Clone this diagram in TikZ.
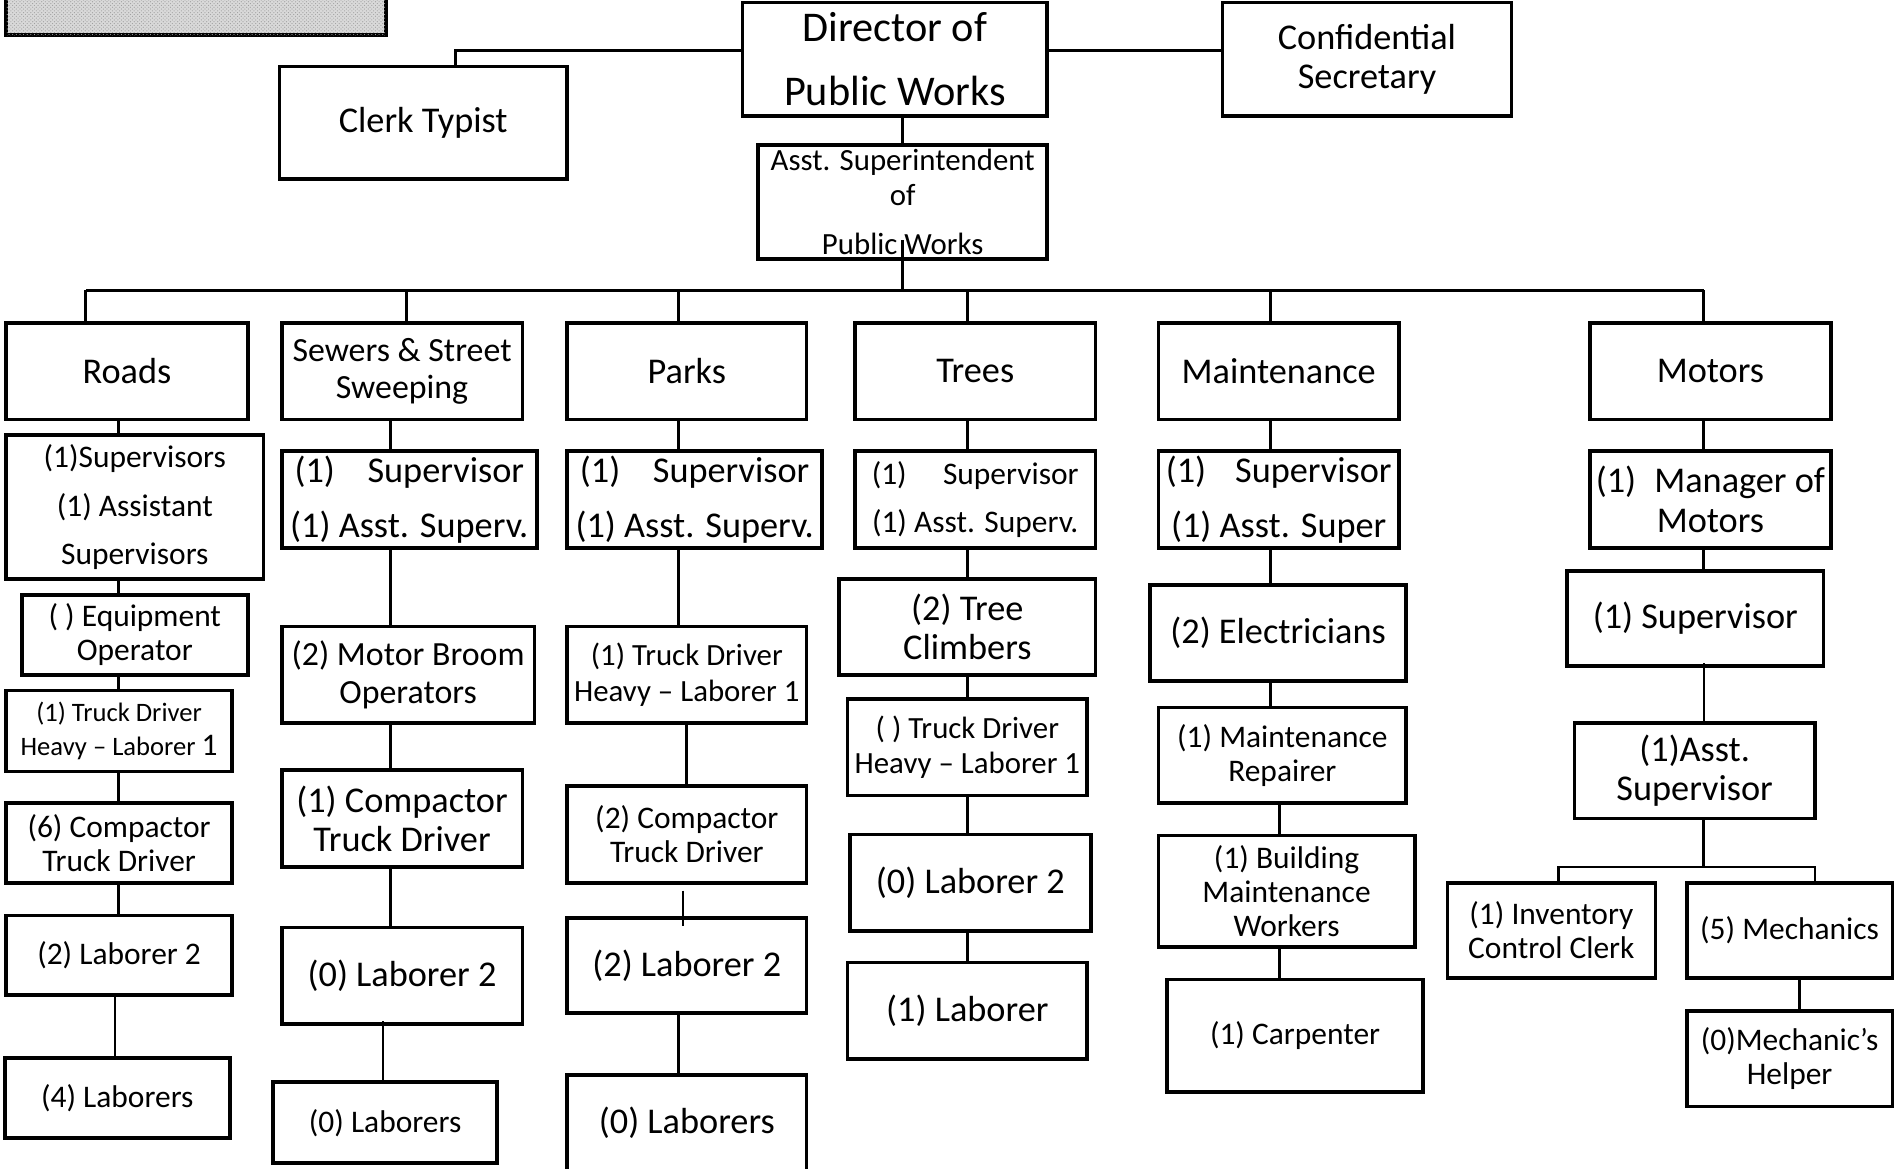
\documentclass[tikz,border=0pt]{standalone}
\usepackage{fontspec}
\setmainfont{Carlito}
\usetikzlibrary{patterns}

\tikzset{
  orgbox/.style={draw=black, line width=3pt, fill=white, inner sep=0pt, align=center, rectangle},
  banner/.style={draw=black, line width=3.5pt, fill=gray!30, inner sep=0pt, rectangle,
    postaction={pattern=crosshatch dots, pattern color=gray!75}},
  link/.style={draw=black, line width=2.3pt},
  thinlink/.style={draw=black, line width=1.5pt},
  tXL/.style={font=\fontsize{35}{38}\selectfont},
  tL/.style={font=\fontsize{30}{32.5}\selectfont},
  tB/.style={font=\fontsize{28}{31}\selectfont},
  tM/.style={font=\fontsize{26}{28}\selectfont},
  tA/.style={font=\fontsize{25.5}{29}\selectfont},
  tS/.style={font=\fontsize{22}{28}\selectfont},
}

% \orgnode{name}{x1}{y1}{x2}{y2}{options}{text}
\newcommand{\orgnode}[7]{%
  \node[orgbox,#6,minimum width={#4-#2},minimum height={#5-#3}]
    (#1) at ({(#2+#4)/2},{(#3+#5)/2}) {#7};}

\begin{document}
\begin{tikzpicture}[x=1pt,y=-1pt]
\useasboundingbox (0,0) rectangle (1568,966);

% shaded title block, top left
\node[banner, minimum width=314, minimum height=49] (banner) at (162,4.5) {};

% top management
\orgnode{director}{614}{2}{866}{96}{tXL}{Director of\\[15pt]Public Works}
\orgnode{clerk}{231}{55}{469}{148}{tL}{Clerk Typist}
\orgnode{conf}{1011}{2}{1250}{96}{tL}{Confidential\\Secretary}
\orgnode{asst}{627}{120}{866}{214}{tA}{Asst. Superintendent\\of\\[11pt]Public Works}

% divisions
\orgnode{roads}{5}{267}{205}{347}{tL}{Roads}
\orgnode{sewers}{233}{267}{432}{347}{tB}{Sewers \& Street\\Sweeping}
\orgnode{parks}{469}{267}{667}{347}{tL}{Parks}
\orgnode{trees}{707}{267}{906}{347}{tL}{Trees}
\orgnode{maint}{958}{267}{1157}{347}{tL}{Maintenance}
\orgnode{motors}{1315}{267}{1514}{347}{tL}{Motors}

% Roads
\orgnode{rSup}{5}{360}{218}{479}{tM}{(1)Supervisors\\[12pt](1) Assistant\\[12pt]Supervisors}
\orgnode{rEq}{18}{492}{205}{558}{tM}{( ) Equipment\\Operator}
\orgnode{rTruck}{5}{571}{192}{638}{tS}{(1) Truck Driver\\Heavy – Laborer {\fontsize{26}{28}\selectfont 1}}
\orgnode{rComp}{5}{664}{192}{730}{tM}{(6) Compactor\\Truck Driver}
\orgnode{rLabA}{5}{757}{192}{823}{tM}{(2) Laborer 2}
\orgnode{rLabB}{4}{875}{190}{941}{tM}{(4) Laborers}

% Sewers & Street Sweeping
\orgnode{sSup}{233}{373}{444}{453}{tL}{(1)\hspace{27pt}Supervisor\\[13pt](1) Asst. Superv.}
\orgnode{sBroom}{233}{518}{442}{598}{tB}{(2) Motor Broom\\Operators}
\orgnode{sComp}{233}{637}{432}{717}{tL}{(1) Compactor\\Truck Driver}
\orgnode{sLabA}{233}{767}{432}{847}{tL}{(0) Laborer 2}
\orgnode{sLabB}{226}{895}{411}{962}{tM}{(0) Laborers}

% Parks
\orgnode{pSup}{469}{373}{680}{453}{tL}{(1)\hspace{27pt}Supervisor\\[13pt](1) Asst. Superv.}
\orgnode{pTruck}{469}{518}{667}{598}{tA}{(1) Truck Driver\\Heavy – Laborer 1}
\orgnode{pComp}{469}{650}{667}{730}{tM}{(2) Compactor\\Truck Driver}
\orgnode{pLabA}{469}{759}{667}{838}{tL}{(2) Laborer 2}
\orgnode{pLabB}{469}{889}{667}{968}{tL}{(0) Laborers}

% Trees
\orgnode{tSup}{707}{373}{906}{453}{tM}{(1)\hspace{30pt}Supervisor\\[12pt](1) Asst. Superv.}
\orgnode{tClimb}{694}{479}{906}{558}{tL}{(2) Tree\\Climbers}
\orgnode{tTruck}{701}{578}{899}{658}{tA}{( ) Truck Driver\\Heavy – Laborer 1}
\orgnode{tLabA}{703}{690}{902}{770}{tL}{(0) Laborer 2}
\orgnode{tLabB}{701}{796}{899}{876}{tL}{(1) Laborer}

% Maintenance
\orgnode{mSup}{958}{373}{1157}{453}{tL}{(1)\hspace{24pt}Supervisor\\[13pt](1) Asst. Super}
\orgnode{mElec}{951}{484}{1163}{563}{tL}{(2) Electricians}
\orgnode{mRep}{958}{585}{1163}{664}{tM}{(1) Maintenance\\Repairer}
\orgnode{mBuild}{958}{691}{1170}{783}{tM}{(1) Building\\Maintenance\\Workers}
\orgnode{mCarp}{965}{810}{1177}{903}{tM}{(1) Carpenter}

% Motors
\orgnode{oMgr}{1315}{373}{1514}{453}{tL}{(1)\hspace{15pt}Manager of\\Motors}
\orgnode{oSup}{1296}{472}{1508}{551}{tL}{(1) Supervisor}
\orgnode{oAsst}{1302}{598}{1501}{677}{tL}{(1)Asst.\\Supervisor}
\orgnode{oInv}{1197}{730}{1369}{809}{tM}{(1) Inventory\\Control Clerk}
\orgnode{oMech}{1395}{730}{1565}{809}{tM}{(5) Mechanics}
\orgnode{oHelp}{1395}{836}{1565}{915}{tM}{(0)Mechanic’s\\Helper}

% connector columns and junctions
\coordinate (busW) at (71,240);
\coordinate (busE) at (1409,240);
\coordinate (xRoads) at (98,0);   \coordinate (xRoadsB) at (95,0);
\coordinate (xSew) at (336,0);    \coordinate (xSewC) at (323,0);  \coordinate (xSewB) at (317,0);
\coordinate (xParks) at (561,0);  \coordinate (xParksB) at (568,0); \coordinate (xParksC) at (565,0);
\coordinate (xTrees) at (800,0);
\coordinate (xMaint) at (1051,0); \coordinate (xMaintB) at (1058,0);
\coordinate (xMot) at (1409,0);   \coordinate (xInv) at (1289,0);  \coordinate (xMech) at (1501,0);
\coordinate (xHelp) at (1488,0);
\coordinate (branch) at (1409,717);

% top management links
\draw[link] ([yshift=7pt]director.west) -| ([xshift=27pt]clerk.north);
\draw[link] ([yshift=7pt]director.east) -- ([yshift=7pt]director.east -| conf.west);
\draw[link] (director.south -| asst.north) -- (asst.north);
\draw[link] ([yshift=17pt]asst.south) -- (asst.south |- busW);

% division bus
\draw[link] (busW) -- (busE);
\draw[link] (busW) -- (busW |- roads.north);
\draw[link] (busW -| xSew) -- (xSew |- sewers.north);
\draw[link] (busW -| xParks) -- (xParks |- parks.north);
\draw[link] (busW -| xTrees) -- (xTrees |- trees.north);
\draw[link] (busW -| xMaint) -- (xMaint |- maint.north);
\draw[link] (busE) -- (busE |- motors.north);

% Roads chain
\foreach \a/\b in {roads/rSup, rSup/rEq, rEq/rTruck, rTruck/rComp, rComp/rLabA}
  \draw[link] (\a.south -| xRoads) -- (\b.north -| xRoads);
\draw[thinlink] (rLabA.south -| xRoadsB) -- (rLabB.north -| xRoadsB);

% Sewers chain
\foreach \a/\b in {sewers/sSup, sSup/sBroom, sBroom/sComp, sComp/sLabA}
  \draw[link] (\a.south -| xSewC) -- (\b.north -| xSewC);
\draw[thinlink] ([yshift=4pt]sLabA.south -| xSewB) -- (sLabB.north -| xSewB);

% Parks chain
\foreach \a/\b in {parks/pSup, pSup/pTruck, pLabA/pLabB}
  \draw[link] (\a.south -| xParks) -- (\b.north -| xParks);
\draw[link] (pTruck.south -| xParksB) -- (pComp.north -| xParksB);
\draw[thinlink] ([yshift=-5pt]pComp.south -| xParksC) -- ([yshift=-8pt]pLabA.north -| xParksC);

% Trees chain
\foreach \a/\b in {trees/tSup, tSup/tClimb, tClimb/tTruck, tTruck/tLabA, tLabA/tLabB}
  \draw[link] (\a.south -| xTrees) -- (\b.north -| xTrees);

% Maintenance chain
\foreach \a/\b in {maint/mSup, mSup/mElec, mElec/mRep}
  \draw[link] (\a.south -| xMaint) -- (\b.north -| xMaint);
\foreach \a/\b in {mRep/mBuild, mBuild/mCarp}
  \draw[link] (\a.south -| xMaintB) -- (\b.north -| xMaintB);

% Motors chain
\foreach \a/\b in {motors/oMgr, oMgr/oSup}
  \draw[link] (\a.south -| xMot) -- (\b.north -| xMot);
\draw[thinlink] ([yshift=4pt]oSup.south -| xMot) -- (oAsst.north -| xMot);
\draw[link] (oAsst.south -| xMot) -- (branch);
\draw[link] (oInv.north -| xInv) |- (branch) -| (oMech.north -| xMech);
\draw[link] (oMech.south -| xHelp) -- (oHelp.north -| xHelp);
\end{tikzpicture}
\end{document}
